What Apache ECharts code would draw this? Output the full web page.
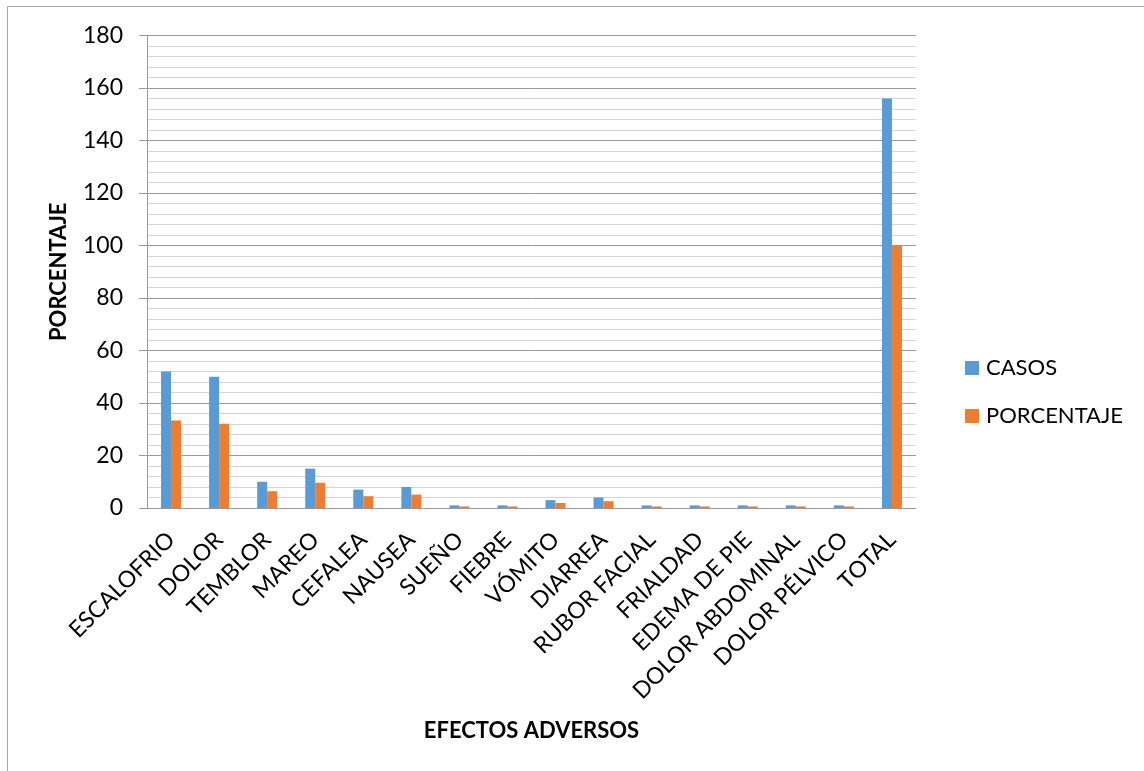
<!DOCTYPE html>
<html>
<head>
<meta charset="utf-8">
<style>
  html, body { margin: 0; padding: 0; background: #fff; }
  #chart { width: 1144px; height: 771px; }
</style>
<script src="https://cdn.jsdelivr.net/npm/echarts@6/dist/echarts.min.js"></script>
</head>
<body>
<div id="chart"></div>
<script>
// Efectos adversos: casos y porcentaje sobre el total
const categories = ['ESCALOFRIO', 'DOLOR', 'TEMBLOR', 'MAREO', 'CEFALEA', 'NAUSEA', 'SUEÑO', 'FIEBRE',
  'VÓMITO', 'DIARREA', 'RUBOR FACIAL', 'FRIALDAD', 'EDEMA DE PIE', 'DOLOR ABDOMINAL', 'DOLOR PÉLVICO', 'TOTAL'];
const casos = [52, 50, 10, 15, 7, 8, 1, 1, 3, 4, 1, 1, 1, 1, 1, 156];
const porcentaje = [33.3, 32.1, 6.4, 9.6, 4.5, 5.1, 0.6, 0.6, 1.9, 2.6, 0.6, 0.6, 0.6, 0.6, 0.6, 100];
const seriesNames = ['CASOS', 'PORCENTAJE'];
const yTicks = { min: 0, max: 180, interval: 20 };

const FONT = 'Lato, "Open Sans", sans-serif';
const chart = echarts.init(document.getElementById('chart'), null, { renderer: 'canvas' });

chart.setOption({
  backgroundColor: '#ffffff',
  animation: false,
  textStyle: { fontFamily: FONT, color: '#000' },
  graphic: [{
    type: 'rect',
    shape: { x: 7.5, y: 6.5, width: 1300, height: 900 },
    style: { fill: 'none', stroke: '#a6a6a6', lineWidth: 1 },
    silent: true
  }],
  grid: { left: 147, right: 228, top: 35.5, bottom: 263, containLabel: false },
  legend: {
    orient: 'vertical',
    left: 960,
    top: 352,
    itemWidth: 14,
    itemHeight: 14,
    itemGap: 26,
    icon: 'rect',
    textStyle: { fontFamily: FONT, fontSize: 22, color: '#000', padding: [0, 0, 0, 2] },
    data: seriesNames
  },
  xAxis: {
    type: 'category',
    data: categories,
    name: 'EFECTOS ADVERSOS',
    nameLocation: 'middle',
    nameGap: 212,
    nameTextStyle: { fontFamily: FONT, fontSize: 22, fontWeight: 'bold', color: '#000' },
    axisLine: { show: true, lineStyle: { color: '#999', width: 1 } },
    axisTick: { show: false },
    axisLabel: { interval: 0, rotate: 45, fontSize: 23, color: '#000', margin: 28, fontFamily: FONT },
    splitLine: { show: false }
  },
  yAxis: {
    type: 'value',
    min: yTicks.min,
    max: yTicks.max,
    interval: yTicks.interval,
    name: 'PORCENTAJE',
    nameLocation: 'middle',
    nameGap: 77,
    nameRotate: 90,
    nameTextStyle: { fontFamily: FONT, fontSize: 22, fontWeight: 'bold', color: '#000' },
    axisLine: { show: true, lineStyle: { color: '#999', width: 1 } },
    axisTick: { show: true, length: 8, lineStyle: { color: '#999' } },
    axisLabel: { fontSize: 23, color: '#000', margin: 24, fontFamily: FONT },
    splitLine: { show: true, lineStyle: { color: '#999', width: 1 } },
    minorTick: { show: false, splitNumber: 5 },
    minorSplitLine: { show: true, lineStyle: { color: '#d4d4d4', width: 1 } }
  },
  series: [
    {
      name: seriesNames[0],
      type: 'bar',
      data: casos,
      barWidth: 10,
      barGap: '0%',
      itemStyle: { color: '#5B9BD5' }
    },
    {
      name: seriesNames[1],
      type: 'bar',
      data: porcentaje,
      barWidth: 10,
      barGap: '0%',
      itemStyle: { color: '#ED7D31' }
    }
  ]
});
</script>
</body>
</html>
